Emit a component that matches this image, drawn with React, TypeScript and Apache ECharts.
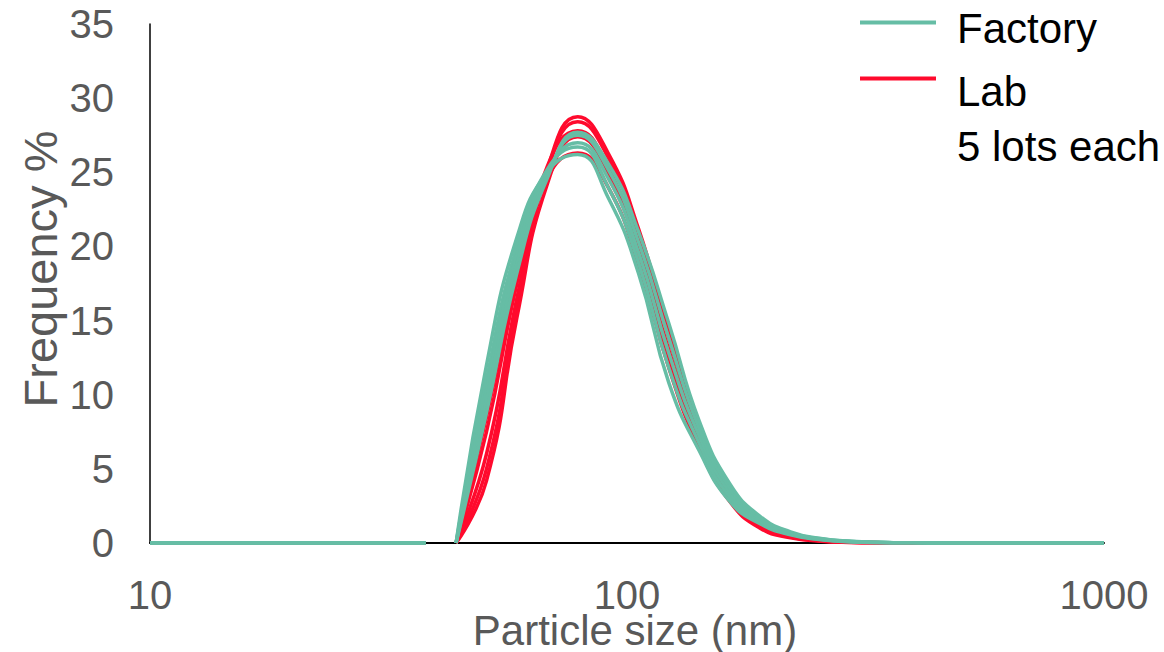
import React, { useEffect, useRef } from "react";
import * as echarts from "echarts";

// Particle size bins (nm); null value marks the gap where no line is drawn
const sizes = [10, 11.7, 13.54, 15.69, 18.17, 21.04, 24.36, 28.21, 32.67, 37.84, 40.7, 43.82, 50.75, 58.77, 68.06, 78.82, 91.28, 105.7, 122.4, 141.8, 164.2, 190.1, 220.2, 255.0, 295.3, 342.0, 396.1, 458.7, 531.2, 615.1, 712.4, 825.0, 955.4, 1000];

const base = [0, 0, 0, 0, 0, 0, 0, 0, 0, 0, null];
const tail = [0, 0, 0, 0, 0, 0, 0];

// Frequency % from 43.82 nm to 396.1 nm
const factory1 = [0, 12.0, 20.6, 25.0, 26.2, 23.3, 18.2, 10.8, 6.2, 2.8, 1.3, 0.55, 0.22, 0.08, 0.03, 0.01];
const factory2 = [0, 11.0, 20.0, 25.2, 26.7, 24.0, 18.9, 11.8, 6.7, 3.1, 1.4, 0.6, 0.25, 0.09, 0.03, 0.01];
const factory3 = [0, 10.3, 19.4, 25.0, 27.0, 24.6, 19.6, 12.8, 7.2, 3.4, 1.5, 0.62, 0.26, 0.1, 0.04, 0.01];
const factory4 = [0, 9.6, 18.8, 24.8, 27.5, 25.2, 20.3, 13.8, 7.7, 3.7, 1.65, 0.68, 0.28, 0.1, 0.04, 0.01];
const factory5 = [0, 8.8, 18.2, 24.6, 27.7, 25.6, 21.0, 14.8, 8.2, 4.0, 1.8, 0.75, 0.3, 0.11, 0.04, 0.01];

const lab1 = [0, 6.0, 16.5, 25.2, 28.75, 26.3, 21.2, 14.2, 7.8, 3.7, 1.5, 0.55, 0.2, 0.06, 0.02, 0];
const lab2 = [0, 5.0, 15.8, 25.0, 28.4, 26.0, 20.8, 13.8, 7.5, 3.5, 1.4, 0.5, 0.18, 0.05, 0.02, 0];
const lab3 = [0, 7.5, 17.5, 25.4, 27.8, 25.3, 20.0, 13.0, 7.0, 3.2, 1.2, 0.45, 0.15, 0.05, 0.02, 0];
const lab4 = [0, 4.2, 15.2, 24.2, 27.4, 25.0, 19.6, 12.5, 6.8, 3.0, 1.1, 0.4, 0.14, 0.04, 0.01, 0];
const lab5 = [0, 8.5, 18.0, 24.6, 26.3, 24.0, 18.8, 11.8, 6.4, 2.8, 1.0, 0.35, 0.12, 0.04, 0.01, 0];

const factoryLots = [factory1, factory2, factory3, factory4, factory5];
const labLots = [lab1, lab2, lab3, lab4, lab5];

const yTicks = { min: 0, max: 35, interval: 5 };
const xRange = { min: 10, max: 1000 };

const TEAL = "#66BDA5";
const RED = "#FF0A2D";
const FONT = "Liberation Sans, Arial, sans-serif";

function toData(vals: (number | null)[]) {
  const full = [...base, ...vals, ...tail];
  return sizes.map((s, i) => [s, full[i] === null ? "-" : full[i]]);
}

export default function App() {
  const ref = useRef<HTMLDivElement>(null);
  useEffect(() => {
    if (!ref.current) return;
    const chart = echarts.init(ref.current, null, { renderer: "svg" });
    const mk = (name: string, color: string, vals: number[]) => ({
      name,
      type: "line",
      data: toData(vals),
      smooth: true,
      showSymbol: false,
      connectNulls: false,
      lineStyle: { color, width: 3.5 },
      itemStyle: { color },
      emphasis: { disabled: true },
    });
    const series = [
      ...labLots.map((v) => mk("Lab", RED, v)),
      ...factoryLots.map((v) => mk("Factory", TEAL, v)),
    ];
    chart.setOption({
      animation: false,
      backgroundColor: "#ffffff",
      grid: { left: 150, width: 954, top: 24, height: 519, containLabel: false, outerBoundsMode: "none" },
      xAxis: {
        type: "log",
        logBase: 10,
        min: xRange.min,
        max: xRange.max,
        name: "Particle size (nm)",
        nameLocation: "middle",
        nameGap: 72,
        nameMoveOverlap: false,
        nameTextStyle: { fontSize: 42, lineHeight: 30, color: "#595959", fontFamily: FONT, padding: [0, 0, 0, 16] },
        axisLine: { show: true, lineStyle: { color: "#000", width: 2 } },
        axisTick: { show: false },
        splitLine: { show: false },
        minorTick: { show: false },
        axisLabel: { fontSize: 40, lineHeight: 30, color: "#595959", fontFamily: FONT, margin: 37, formatter: (v: number) => String(Math.round(v)) },
      },
      yAxis: {
        type: "value",
        min: yTicks.min,
        max: yTicks.max,
        interval: yTicks.interval,
        name: "Frequency %",
        nameLocation: "middle",
        nameGap: 86,
        nameRotate: 90,
        nameMoveOverlap: false,
        nameTextStyle: { fontSize: 47, color: "#595959", fontFamily: FONT, padding: [0, 0, 0, 29] },
        axisLine: { show: true, lineStyle: { color: "#000", width: 1.5 } },
        axisTick: { show: false },
        splitLine: { show: false },
        axisLabel: { fontSize: 40, color: "#595959", fontFamily: FONT, margin: 36 },
      },
      graphic: [
        { type: "line", shape: { x1: 860, y1: 22.5, x2: 936, y2: 22.5 }, style: { stroke: TEAL, lineWidth: 4 } },
        { type: "text", x: 957, y: 28, style: { text: "Factory", font: `42px ${FONT}`, fill: "#000", verticalAlign: "middle", align: "left" } },
        { type: "line", shape: { x1: 860, y1: 78.5, x2: 936, y2: 78.5 }, style: { stroke: RED, lineWidth: 4 } },
        { type: "text", x: 957, y: 91, style: { text: "Lab", font: `42px ${FONT}`, fill: "#000", verticalAlign: "middle", align: "left" } },
        { type: "text", x: 957, y: 146, style: { text: "5 lots each", font: `42px ${FONT}`, fill: "#000", verticalAlign: "middle", align: "left" } },
      ],
      series,
    });
    return () => chart.dispose();
  }, []);
  return (
    <div
      ref={ref}
      style={{ position: "fixed", left: 0, top: 0, width: 1164, height: 652, background: "#fff" }}
    />
  );
}
